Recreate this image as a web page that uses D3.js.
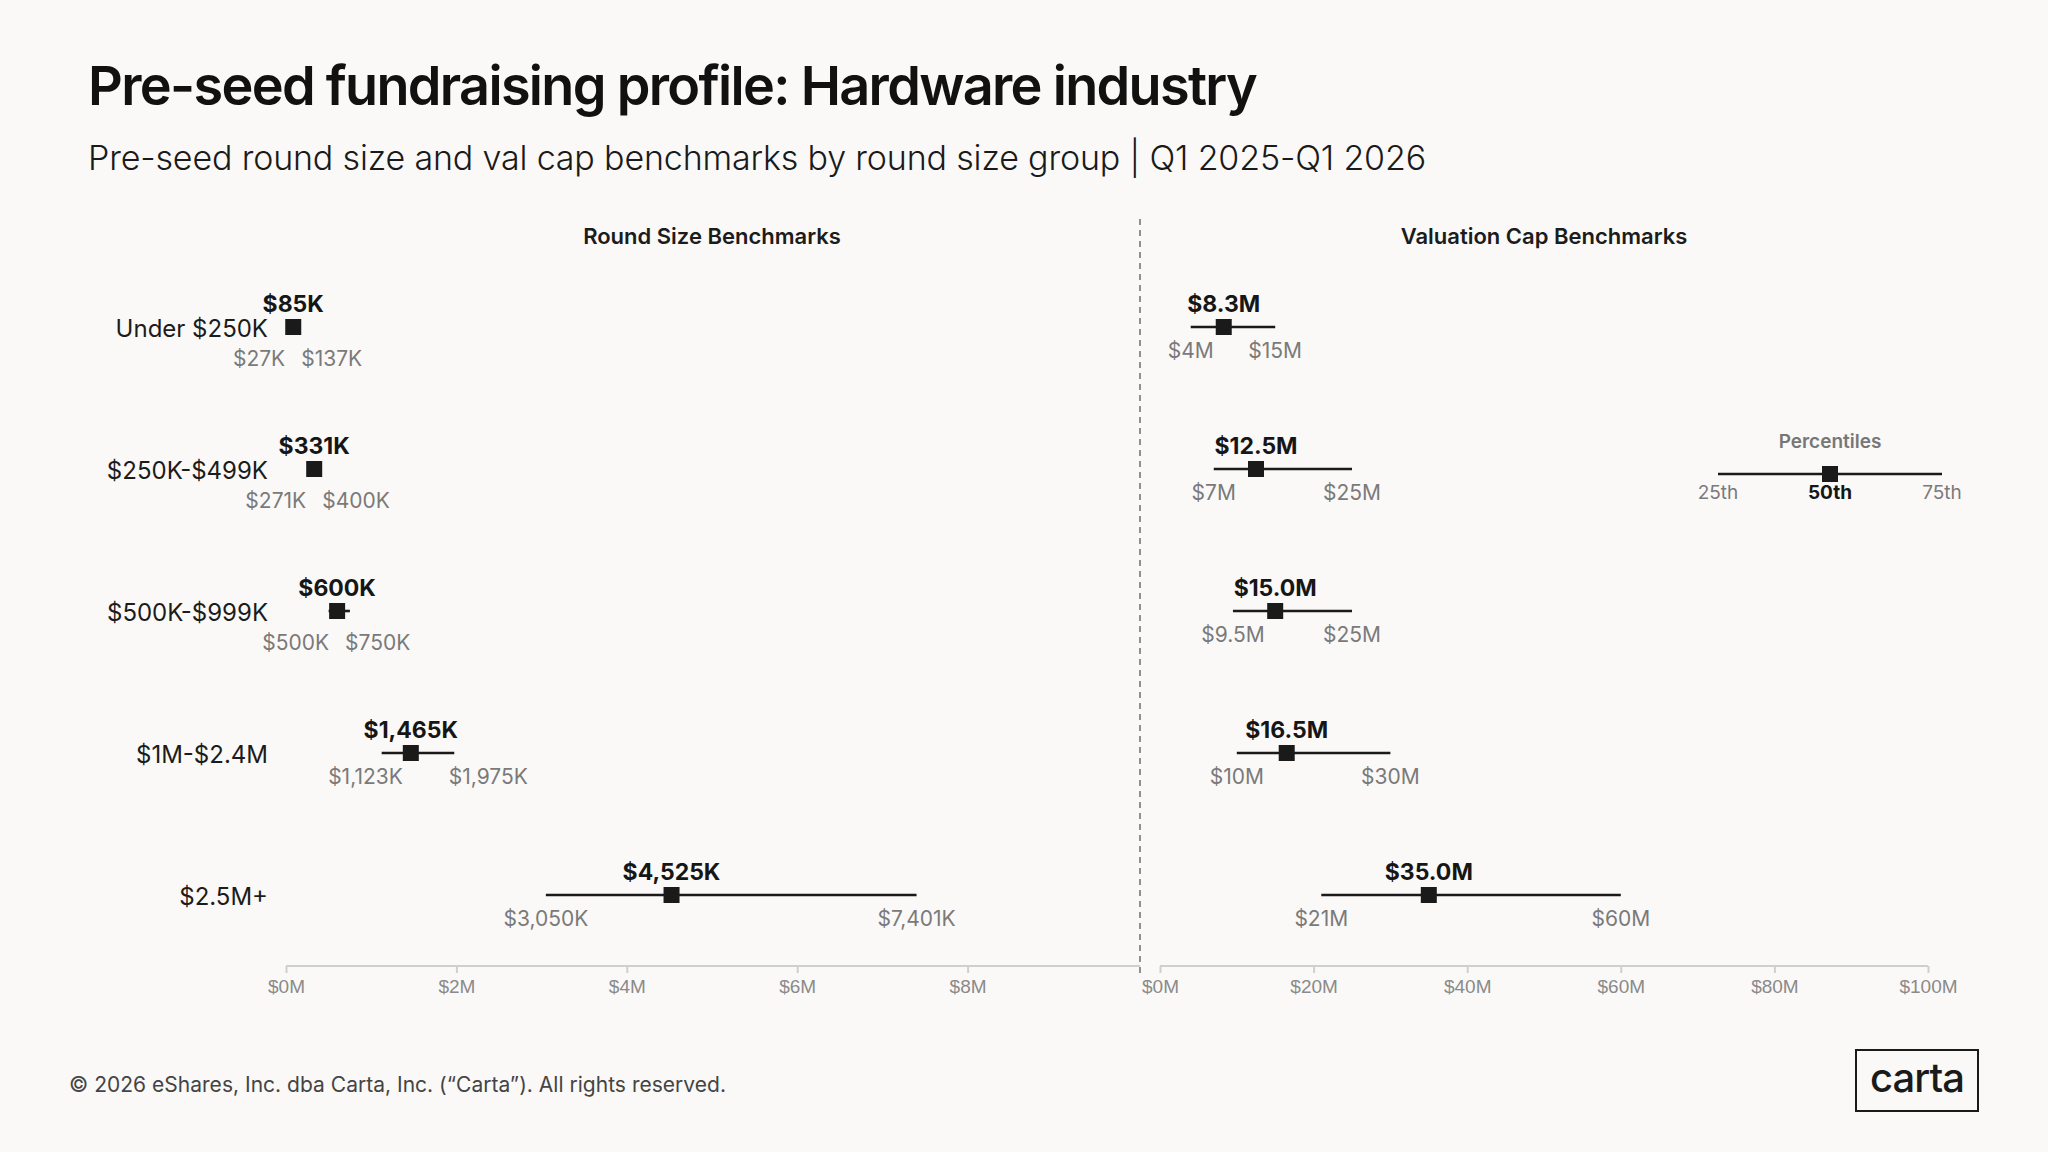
<!DOCTYPE html>
<html>
<head>
<meta charset="utf-8">
<script src="https://cdn.jsdelivr.net/npm/d3@7"></script>
<style>
  html, body { margin: 0; padding: 0; background: #faf9f7; }
  svg { display: block; font-family: Inter, 'Noto Sans', sans-serif; }
  .axis text { fill: #8a8a8a; font-size: 19px; }
  .axis line, .axis path { stroke: #cfcfcf; stroke-width: 2px; }
  .group-label { fill: #1c1c1c; font-size: 24px; }
  .median-label { fill: #161616; font-size: 23px; font-weight: 700; }
  .range-label { fill: #7a7a7a; font-size: 21px; }
  .panel-title { fill: #1c1c1c; font-size: 22px; font-weight: 600; }
</style>
</head>
<body>
<svg id="chart" width="2048" height="1152"></svg>
<script>
// round size groups, one row each
const groups = ['Under $250K', '$250K-$499K', '$500K-$999K', '$1M-$2.4M', '$2.5M+'];

// round size percentiles, $K
const roundP25 = [27, 271, 500, 1123, 3050];
const roundP50 = [85, 331, 600, 1465, 4525];
const roundP75 = [137, 400, 750, 1975, 7401];

// valuation cap percentiles, $M
const valP25 = [4, 7, 9.5, 10, 21];
const valP50 = [8.3, 12.5, 15.0, 16.5, 35.0];
const valP75 = [15, 25, 25, 30, 60];

// axis ticks
const roundTicks = [0, 2, 4, 6, 8];        // $M
const valTicks = [0, 20, 40, 60, 80, 100]; // $M

const legendLabels = ['25th', '50th', '75th'];

const svg = d3.select('#chart');

const rowY = d3.scalePoint().domain(groups).range([327, 895]);
const axisY = 966;

// letter-spacing tweak so a line of text lands on the wanted width
function fitWidth(sel, target) {
  const node = sel.node();
  const n = sel.text().length;
  const w = node.getComputedTextLength();
  sel.attr('letter-spacing', ((target - w) / n).toFixed(3));
}

// header
svg.append('text')
  .attr('x', 88).attr('y', 105)
  .attr('font-size', 54).attr('font-weight', 600).attr('fill', '#111')
  .text('Pre-seed fundraising profile: Hardware industry')
  .call(fitWidth, 1168);

svg.append('text')
  .attr('x', 88).attr('y', 170)
  .attr('font-size', 34).attr('font-weight', 300).attr('fill', '#1a1a1a')
  .text('Pre-seed round size and val cap benchmarks by round size group | Q1 2025-Q1 2026')
  .call(fitWidth, 1338);

function drawPanel(opts) {
  const x = d3.scaleLinear().domain(opts.domain).range(opts.range);
  const g = svg.append('g');

  g.append('text')
    .attr('class', 'panel-title')
    .attr('x', (opts.range[0] + opts.range[1]) / 2)
    .attr('y', 244)
    .attr('text-anchor', 'middle')
    .text(opts.title);

  g.append('g')
    .attr('class', 'axis')
    .attr('transform', `translate(0, ${axisY})`)
    .call(d3.axisBottom(x).tickValues(opts.ticks).tickSize(7).tickSizeOuter(0).tickPadding(7)
      .tickFormat(d => `$${d}M`))
    .call(a => a.select('.domain').attr('d', `M${opts.lineRange[0]},0H${opts.lineRange[1]}`));

  const rows = g.selectAll('.row')
    .data(groups.map((name, i) => ({ name, lo: opts.lo[i], mid: opts.mid[i], hi: opts.hi[i] })))
    .join('g')
    .attr('class', 'row')
    .attr('transform', d => `translate(0, ${rowY(d.name)})`);

  rows.append('line')
    .attr('x1', d => x(d.lo * opts.unit))
    .attr('x2', d => x(d.hi * opts.unit))
    .attr('stroke', '#1a1a1a')
    .attr('stroke-width', 2.6);

  rows.append('rect')
    .attr('x', d => x(d.mid * opts.unit) - 8)
    .attr('y', -8)
    .attr('width', 16)
    .attr('height', 16)
    .attr('fill', '#1a1a1a');

  rows.append('text')
    .attr('class', 'median-label')
    .attr('x', d => x(d.mid * opts.unit))
    .attr('y', -15)
    .attr('text-anchor', 'middle')
    .text(d => opts.fmtMid(d.mid));

  // low / high labels: centred on their value; when they collide they are
  // pushed clear of the median (and dropped a bit if the clash is heavy)
  rows.each(function (d) {
    const row = d3.select(this);
    const mx = x(d.mid * opts.unit);
    const x0 = x(d.lo * opts.unit);
    const x1 = x(d.hi * opts.unit);

    const lo = row.append('text')
      .attr('class', 'range-label')
      .attr('text-anchor', 'middle')
      .text(opts.fmtRange(d.lo));
    const hi = row.append('text')
      .attr('class', 'range-label')
      .attr('text-anchor', 'middle')
      .text(opts.fmtRange(d.hi));
    const lw = lo.node().getComputedTextLength();
    const hw = hi.node().getComputedTextLength();

    const overlap = (x0 + lw / 2) - (x1 - hw / 2);
    const dropped = overlap > 10;
    const gap = dropped ? 16 : 46;

    let loX = x0, hiX = x1;
    if (overlap > -16) {
      loX = Math.min(x0, mx - 8 - lw / 2);
      hiX = Math.max(x1, mx + 8 + hw / 2, loX + lw / 2 + gap + hw / 2);
    }
    const y = dropped ? 39 : 31;
    lo.attr('x', loX).attr('y', y);
    hi.attr('x', hiX).attr('y', y);
  });

  return x;
}

drawPanel({
  title: 'Round Size Benchmarks',
  domain: [0, 10], range: [286, 1138], lineRange: [286, 1140],
  ticks: roundTicks, unit: 0.001,
  lo: roundP25, mid: roundP50, hi: roundP75,
  fmtMid: v => `$${d3.format(',')(v)}K`,
  fmtRange: v => `$${d3.format(',')(v)}K`
});

drawPanel({
  title: 'Valuation Cap Benchmarks',
  domain: [0, 100], range: [1160, 1928], lineRange: [1160, 1928],
  ticks: valTicks, unit: 1,
  lo: valP25, mid: valP50, hi: valP75,
  fmtMid: v => `$${v.toFixed(1)}M`,
  fmtRange: v => `$${v}M`
});

// row labels
svg.append('g')
  .selectAll('text')
  .data(groups)
  .join('text')
  .attr('class', 'group-label')
  .attr('x', 268)
  .attr('y', d => rowY(d) + 10)
  .attr('text-anchor', 'end')
  .text(d => d);

// dashed divider between panels
svg.append('line')
  .attr('x1', 1140).attr('x2', 1140)
  .attr('y1', 219).attr('y2', 974)
  .attr('stroke', '#777')
  .attr('stroke-width', 1.6)
  .attr('stroke-dasharray', '6,5');

// percentile legend
const legend = svg.append('g').attr('transform', 'translate(1830, 474)');
const lx = d3.scalePoint().domain(legendLabels).range([-112, 112]);
legend.append('text')
  .attr('y', -26)
  .attr('text-anchor', 'middle')
  .attr('font-size', 19).attr('font-weight', 600).attr('fill', '#777')
  .text('Percentiles');
legend.append('line')
  .attr('x1', lx('25th')).attr('x2', lx('75th'))
  .attr('stroke', '#1a1a1a').attr('stroke-width', 2.6);
legend.append('rect')
  .attr('x', lx('50th') - 8).attr('y', -8)
  .attr('width', 16).attr('height', 16)
  .attr('fill', '#1a1a1a');
legend.selectAll('.leg-label')
  .data(legendLabels)
  .join('text')
  .attr('class', 'leg-label')
  .attr('x', d => lx(d))
  .attr('y', 25)
  .attr('text-anchor', 'middle')
  .attr('font-size', 19)
  .attr('font-weight', d => d === '50th' ? 700 : 400)
  .attr('fill', d => d === '50th' ? '#161616' : '#7a7a7a')
  .text(d => d);

// footer
svg.append('text')
  .attr('x', 69).attr('y', 1092)
  .attr('font-size', 21).attr('fill', '#444')
  .text('© 2026 eShares, Inc. dba Carta, Inc. (“Carta”). All rights reserved.')
  .call(fitWidth, 657);

// carta mark
svg.append('rect')
  .attr('x', 1856).attr('y', 1050)
  .attr('width', 122).attr('height', 61)
  .attr('fill', 'none')
  .attr('stroke', '#1a1a1a')
  .attr('stroke-width', 2);
svg.append('text')
  .attr('x', 1917).attr('y', 1092)
  .attr('text-anchor', 'middle')
  .attr('font-size', 40).attr('font-weight', 500).attr('fill', '#1a1a1a')
  .attr('letter-spacing', -1)
  .text('carta');
</script>
</body>
</html>
